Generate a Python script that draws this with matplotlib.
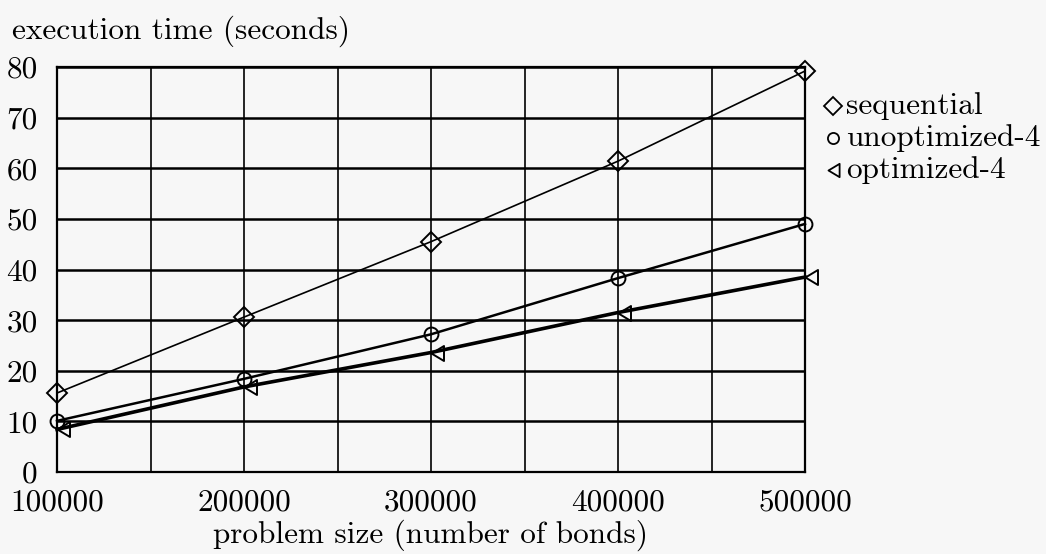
import matplotlib
matplotlib.use("Agg")
import matplotlib.pyplot as plt
from matplotlib.path import Path
from matplotlib.lines import Line2D

plt.rcParams['font.family'] = 'cmr10'
plt.rcParams['axes.formatter.use_mathtext'] = True

# values
sizes = [100000, 200000, 300000, 400000, 500000]
sequential = [15.6, 30.6, 45.5, 61.4, 79.2]
unoptimized = [10.1, 18.4, 27.2, 38.3, 49.0]
optimized = [8.4, 16.8, 23.6, 31.5, 38.5]

series_names = ['sequential', 'unoptimized-4', 'optimized-4']
xtick_labels = ['100000', '200000', '300000', '400000', '500000']
yticks = [0, 10, 20, 30, 40, 50, 60, 70, 80]
minor_x = [150000, 250000, 350000, 450000]

fs = 22.5
bg = '#f7f7f7'
fig = plt.figure(figsize=(10.46, 5.54), dpi=100, facecolor=bg)
ax = fig.add_axes([57/1046, 1-472/554, (805-57)/1046, (472-67)/554])
ax.set_facecolor(bg)

# left-pointing triangle with its tip on the data point
tri = Path([(0, 0), (1, 0.6), (1, -0.6), (0, 0)],
           [Path.MOVETO, Path.LINETO, Path.LINETO, Path.CLOSEPOLY])

styles = [('D', 10, 1.2), ('o', 10, 1.8), (tri, 18, 2.6)]
marker_ms_leg = [9, 8, 16]
for vals, (mk, ms, lw) in zip([sequential, unoptimized, optimized], styles):
    ax.plot(sizes, vals, color='black', lw=lw, marker=mk, ms=ms,
            mfc='none', mec='black', mew=1.4, clip_on=False, zorder=5)

ax.set_xlim(100000, 500000)
ax.set_ylim(0, 80)
ax.set_xticks(sizes)
ax.set_xticklabels(xtick_labels)
ax.set_xticks(minor_x, minor=True)
ax.set_yticks(yticks)
ax.set_yticklabels([str(v) for v in yticks])
ax.tick_params(axis='both', which='both', length=0, labelsize=fs)
ax.tick_params(axis='x', pad=12)
ax.tick_params(axis='y', pad=14)

ax.grid(axis='y', color='black', lw=1.8)
ax.grid(axis='x', which='both', color='black', lw=1.2)
for s in ax.spines.values():
    s.set_linewidth(1.6)

ax.set_xlabel('problem size (number of bonds)', fontsize=fs, labelpad=2)
fig.text(12/1046, 1-31/554, 'execution time (seconds)', fontsize=fs, va='center', ha='left')

# legend drawn by hand to the right of the plot
leg_y = [106, 138, 170]
for name, (mk, _, _), lms, yp in zip(series_names, styles, marker_ms_leg, leg_y):
    mx = 833 if mk is not tri else 828
    fig.add_artist(Line2D([mx/1046], [1-yp/554], transform=fig.transFigure,
                          marker=mk, ms=lms, mfc='none', mec='black', mew=1.3,
                          ls='none'))
    fig.text(846/1046, 1-yp/554, name, fontsize=fs, va='center', ha='left')

fig.savefig('out.png', dpi=100, facecolor=bg)
